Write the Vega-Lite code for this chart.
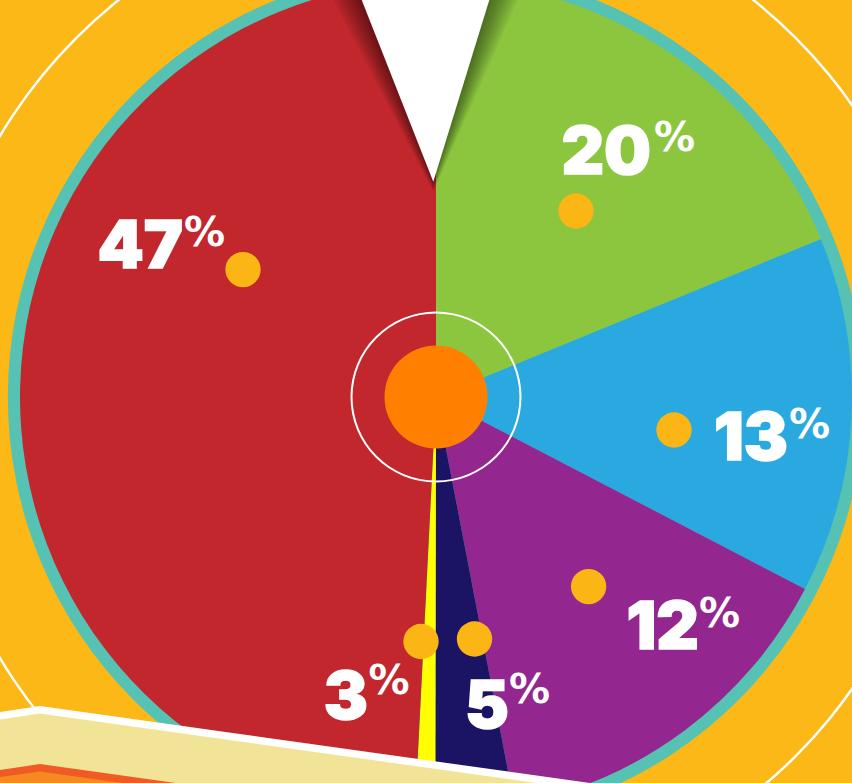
{
  "$schema": "https://vega.github.io/schema/vega-lite/v6.json",
  "width": 872,
  "height": 794,
  "padding": 0,
  "autosize": {"type": "none"},
  "background": "#FBB817",
  "config": {"view": {"stroke": null}},
  "layer": [
    {
      "data": {"values": [{"deg": 360}]},
      "mark": {"type": "arc", "innerRadius": 507, "outerRadius": 509.5, "color": "white"},
      "encoding": {"theta": {"field": "deg", "type": "quantitative"}}
    },
    {
      "data": {"values": [{"deg": 360}]},
      "mark": {"type": "arc", "innerRadius": 0, "outerRadius": 428, "color": "#55C2B4"},
      "encoding": {"theta": {"field": "deg", "type": "quantitative"}}
    },
    {
      "data": {"values": [
        {"idx": 1, "slice": "green", "pct": 20, "deg": 67.7},
        {"idx": 2, "slice": "blue", "pct": 13, "deg": 49.8},
        {"idx": 3, "slice": "purple", "pct": 12, "deg": 51.6},
        {"idx": 4, "slice": "navy", "pct": 5, "deg": 11.0},
        {"idx": 5, "slice": "yellow", "pct": 3, "deg": 2.8},
        {"idx": 6, "slice": "red", "pct": 47, "deg": 177.1}
      ]},
      "mark": {"type": "arc", "innerRadius": 0, "outerRadius": 416},
      "encoding": {
        "theta": {"field": "deg", "type": "quantitative", "stack": true},
        "order": {"field": "idx", "type": "quantitative"},
        "color": {"field": "slice", "type": "nominal", "legend": null,
          "scale": {"domain": ["green", "blue", "purple", "navy", "yellow", "red"],
                    "range": ["#8CC63F", "#29A9E0", "#93278F", "#1B1464", "#FFFF00", "#C1272D"]}}
      }
    },
    {
      "data": {"values": [
        {"g": 1, "x": -82.4, "top": 410, "bot": 410}, {"g": 1, "x": -2.7, "top": 410, "bot": 214.3}, {"g": 1, "x": 60.3, "top": 410, "bot": 410},
        {"g": 2, "x": -85.4, "top": 410, "bot": 410}, {"g": 2, "x": -2.7, "top": 410, "bot": 213.3}, {"g": 2, "x": 63.3, "top": 410, "bot": 410},
        {"g": 3, "x": -88.4, "top": 410, "bot": 410}, {"g": 3, "x": -2.7, "top": 410, "bot": 212.3}, {"g": 3, "x": 66.3, "top": 410, "bot": 410},
        {"g": 4, "x": -91.4, "top": 410, "bot": 410}, {"g": 4, "x": -2.7, "top": 410, "bot": 211.3}, {"g": 4, "x": 69.3, "top": 410, "bot": 410},
        {"g": 5, "x": -94.4, "top": 410, "bot": 410}, {"g": 5, "x": -2.7, "top": 410, "bot": 210.3}, {"g": 5, "x": 72.3, "top": 410, "bot": 410},
        {"g": 6, "x": -97.4, "top": 410, "bot": 410}, {"g": 6, "x": -2.7, "top": 410, "bot": 209.3}, {"g": 6, "x": 75.3, "top": 410, "bot": 410},
        {"g": 7, "x": -100.4, "top": 410, "bot": 410}, {"g": 7, "x": -2.7, "top": 410, "bot": 208.3}, {"g": 7, "x": 78.3, "top": 410, "bot": 410},
        {"g": 8, "x": -103.4, "top": 410, "bot": 410}, {"g": 8, "x": -2.7, "top": 410, "bot": 207.3}, {"g": 8, "x": 81.3, "top": 410, "bot": 410},
        {"g": 9, "x": -106.4, "top": 410, "bot": 410}, {"g": 9, "x": -2.7, "top": 410, "bot": 206.3}, {"g": 9, "x": 84.3, "top": 410, "bot": 410},
        {"g": 10, "x": -109.4, "top": 410, "bot": 410}, {"g": 10, "x": -2.7, "top": 410, "bot": 205.3}, {"g": 10, "x": 87.3, "top": 410, "bot": 410}
      ]},
      "mark": {"type": "area", "color": "black", "opacity": 0.05},
      "encoding": {
        "x": {"field": "x", "type": "quantitative", "scale": {"domain": [-436, 436], "nice": false, "zero": false}, "axis": null},
        "y": {"field": "top", "type": "quantitative", "scale": {"domain": [-397, 397], "nice": false, "zero": false}, "axis": null},
        "y2": {"field": "bot"},
        "detail": {"field": "g", "type": "nominal"}
      }
    },
    {
      "data": {"values": [
        {"x": -79.4, "top": 410, "bot": 410}, {"x": -2.7, "top": 410, "bot": 215.3}, {"x": 57.3, "top": 410, "bot": 410}
      ]},
      "mark": {"type": "area", "color": "white"},
      "encoding": {
        "x": {"field": "x", "type": "quantitative", "axis": null},
        "y": {"field": "top", "type": "quantitative", "axis": null},
        "y2": {"field": "bot"}
      }
    },
    {
      "data": {"values": [{"deg": 360}]},
      "mark": {"type": "arc", "innerRadius": 83.5, "outerRadius": 85.5, "color": "white"},
      "encoding": {"theta": {"field": "deg", "type": "quantitative"}}
    },
    {
      "data": {"values": [{"deg": 360}]},
      "mark": {"type": "arc", "innerRadius": 0, "outerRadius": 51.5, "color": "#FF8000"},
      "encoding": {"theta": {"field": "deg", "type": "quantitative"}}
    },
    {
      "data": {"values": [
        {"pct": 47, "dx": -193, "dy": 127.4},
        {"pct": 20, "dx": 140, "dy": 186},
        {"pct": 13, "dx": 238, "dy": -33},
        {"pct": 12, "dx": 152.6, "dy": -189.6},
        {"pct": 5, "dx": 38.5, "dy": -242},
        {"pct": 3, "dx": -15, "dy": -244.5}
      ]},
      "mark": {"type": "point", "shape": "circle", "filled": true, "size": 1250, "color": "#FBB515", "opacity": 1},
      "encoding": {
        "x": {"field": "dx", "type": "quantitative", "axis": null},
        "y": {"field": "dy", "type": "quantitative", "axis": null}
      }
    },
    {
      "data": {"values": [
        {"num": "47", "nx": -253, "ny": 129},
        {"num": "20", "nx": 215, "ny": 223},
        {"num": "13", "nx": 352, "ny": -63},
        {"num": "12", "nx": 263, "ny": -252},
        {"num": "5", "nx": 73, "ny": -331},
        {"num": "3", "nx": -68, "ny": -322}
      ]},
      "mark": {"type": "text", "align": "right", "baseline": "alphabetic", "font": "Inter", "fontWeight": 900, "fontSize": 66, "color": "white", "stroke": "white", "strokeWidth": 1.5},
      "encoding": {
        "x": {"field": "nx", "type": "quantitative", "axis": null},
        "y": {"field": "ny", "type": "quantitative", "axis": null},
        "text": {"field": "num"}
      }
    },
    {
      "data": {"values": [
        {"sym": "%", "px": -252, "py": 151},
        {"sym": "%", "px": 218, "py": 246},
        {"sym": "%", "px": 353, "py": -41},
        {"sym": "%", "px": 263, "py": -230},
        {"sym": "%", "px": 73, "py": -306},
        {"sym": "%", "px": -67.4, "py": -297}
      ]},
      "mark": {"type": "text", "align": "left", "baseline": "alphabetic", "font": "DejaVu Sans", "fontWeight": "bold", "fontSize": 41, "color": "white"},
      "encoding": {
        "x": {"field": "px", "type": "quantitative", "axis": null},
        "y": {"field": "py", "type": "quantitative", "axis": null},
        "text": {"field": "sym"}
      }
    },
    {
      "data": {"values": [
        {"x": -436, "top": -315, "bot": -600},
        {"x": -396, "top": -309, "bot": -600},
        {"x": 436, "top": -425.5, "bot": -600}
      ]},
      "mark": {"type": "area", "color": "white"},
      "encoding": {
        "x": {"field": "x", "type": "quantitative", "axis": null},
        "y": {"field": "top", "type": "quantitative", "axis": null},
        "y2": {"field": "bot"}
      }
    },
    {
      "data": {"values": [
        {"x": -436, "top": -322.5, "bot": -600},
        {"x": -396, "top": -316.5, "bot": -600},
        {"x": 436, "top": -433, "bot": -600}
      ]},
      "mark": {"type": "area", "color": "#F2E497"},
      "encoding": {
        "x": {"field": "x", "type": "quantitative", "axis": null},
        "y": {"field": "top", "type": "quantitative", "axis": null},
        "y2": {"field": "bot"}
      }
    },
    {
      "data": {"values": [
        {"x": -436, "top": -373, "bot": -600},
        {"x": -396, "top": -367, "bot": -600},
        {"x": 436, "top": -483.5, "bot": -600}
      ]},
      "mark": {"type": "area", "color": "#F15A24"},
      "encoding": {
        "x": {"field": "x", "type": "quantitative", "axis": null},
        "y": {"field": "top", "type": "quantitative", "axis": null},
        "y2": {"field": "bot"}
      }
    },
    {
      "data": {"values": [
        {"x": -436, "top": -380, "bot": -600},
        {"x": -396, "top": -374.5, "bot": -600},
        {"x": 436, "top": -491, "bot": -600}
      ]},
      "mark": {"type": "area", "color": "#F6891F"},
      "encoding": {
        "x": {"field": "x", "type": "quantitative", "axis": null},
        "y": {"field": "top", "type": "quantitative", "axis": null},
        "y2": {"field": "bot"}
      }
    }
  ],
  "resolve": {"scale": {"theta": "independent", "color": "independent"}}
}
